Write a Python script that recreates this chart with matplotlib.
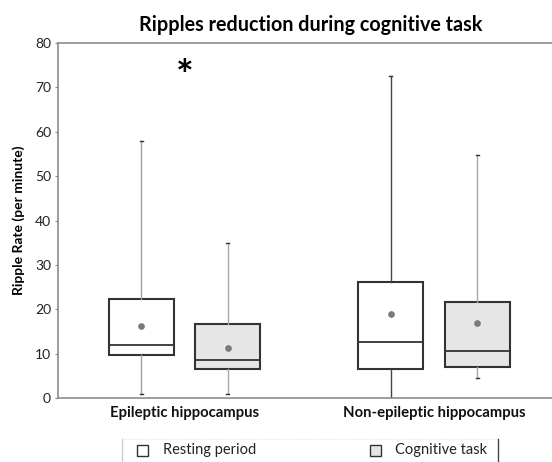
import matplotlib
matplotlib.use("Agg")
import matplotlib.pyplot as plt
from matplotlib.patches import Rectangle
from matplotlib.lines import Line2D

plt.rcParams['font.family'] = ['Lato', 'DejaVu Sans']

# Summary statistics per group (ripples per minute)
groups = ["Epileptic hippocampus", "Non-epileptic hippocampus"]
conditions = ["Resting period", "Cognitive task"]
whisker_low = [[0.8, 0.8], [0.0, 4.4]]
q1 = [[9.7, 6.5], [6.5, 6.9]]
median = [[11.9, 8.5], [12.7, 10.7]]
q3 = [[22.3, 16.7], [26.2, 21.6]]
whisker_high = [[58.0, 35.0], [72.5, 54.8]]
mean = [[16.3, 11.2], [19.0, 16.9]]
yticks = [0, 10, 20, 30, 40, 50, 60, 70, 80]

W, H = 552, 462
fig = plt.figure(figsize=(W / 100, H / 100), dpi=100)

def fx(px):
    return px / W

def fy(py):
    return 1 - py / H

ax = fig.add_axes([fx(58), fy(398), fx(552) - fx(58), fy(43) - fy(398)])

box_fill = ["white", "#e6e6e6"]
whisk_col = [["#a0a0a0", "#a8a8a8"], ["#444444", "#a8a8a8"]]
offsets = [-0.174, 0.174]
for g in range(2):
    for c in range(2):
        st = dict(whislo=whisker_low[g][c], q1=q1[g][c], med=median[g][c],
                  q3=q3[g][c], whishi=whisker_high[g][c], mean=mean[g][c])
        ax.bxp([st], positions=[g + offsets[c]], widths=0.26, showmeans=True,
               showfliers=False, patch_artist=True, capwidths=[0.012],
               boxprops=dict(facecolor=box_fill[c], edgecolor="#333333", linewidth=1.5),
               medianprops=dict(color="#333333", linewidth=1.3),
               whiskerprops=dict(color=whisk_col[g][c], linewidth=1.0),
               capprops=dict(color="#333333", linewidth=1.0),
               meanprops=dict(marker="o", markersize=3.8, markerfacecolor="#7a7a7a",
                              markeredgecolor="#7a7a7a"))

ax.set_xlim(-0.507, 1.473)
ax.set_ylim(0, 80)
ax.set_yticks(yticks)
ax.set_yticklabels([str(t) for t in yticks], fontsize=10, color="#222222")
ax.tick_params(axis='y', length=2, width=0.8, color="#888888", pad=3)
ax.set_xticks([0, 1])
ax.set_xticklabels(groups, fontsize=10.7, fontweight="bold", color="#111111")
ax.tick_params(axis='x', length=0, pad=6)
for s in ["left", "bottom", "top"]:
    ax.spines[s].set_color("#8c8c8c")
    ax.spines[s].set_linewidth(1.2)
ax.spines["right"].set_visible(False)

ax.set_ylabel("Ripple Rate (per minute)", fontsize=10, fontweight="bold", labelpad=7)
ax.text(0.0, 72, "*", ha="center", va="center", fontsize=30, fontweight="bold")

fig.text(fx(311), fy(25), "Ripples reduction during cognitive task",
         ha="center", va="center", fontsize=14.2, fontweight="bold")

# Legend strip below the axes
fig.add_artist(Line2D([fx(122), fx(122)], [fy(439), fy(462)], color="#cccccc", lw=1))
fig.add_artist(Line2D([fx(498), fx(498)], [fy(439), fy(462)], color="#444444", lw=1))
fig.add_artist(Line2D([fx(122), fx(498)], [fy(439), fy(439)], color="#dddddd", lw=0.8, ls=":"))
legend_items = [(137, 163, "white"), (370, 395, "#e6e6e6")]
for (sx, tx, col), label in zip(legend_items, conditions):
    fig.add_artist(Rectangle((fx(sx), fy(456)), fx(11), fy(445) - fy(456),
                             facecolor=col, edgecolor="#333333", lw=1.0))
    fig.text(fx(tx), fy(450), label, ha="left", va="center", fontsize=10.5, color="#222222")

fig.savefig("out.png", dpi=100)
